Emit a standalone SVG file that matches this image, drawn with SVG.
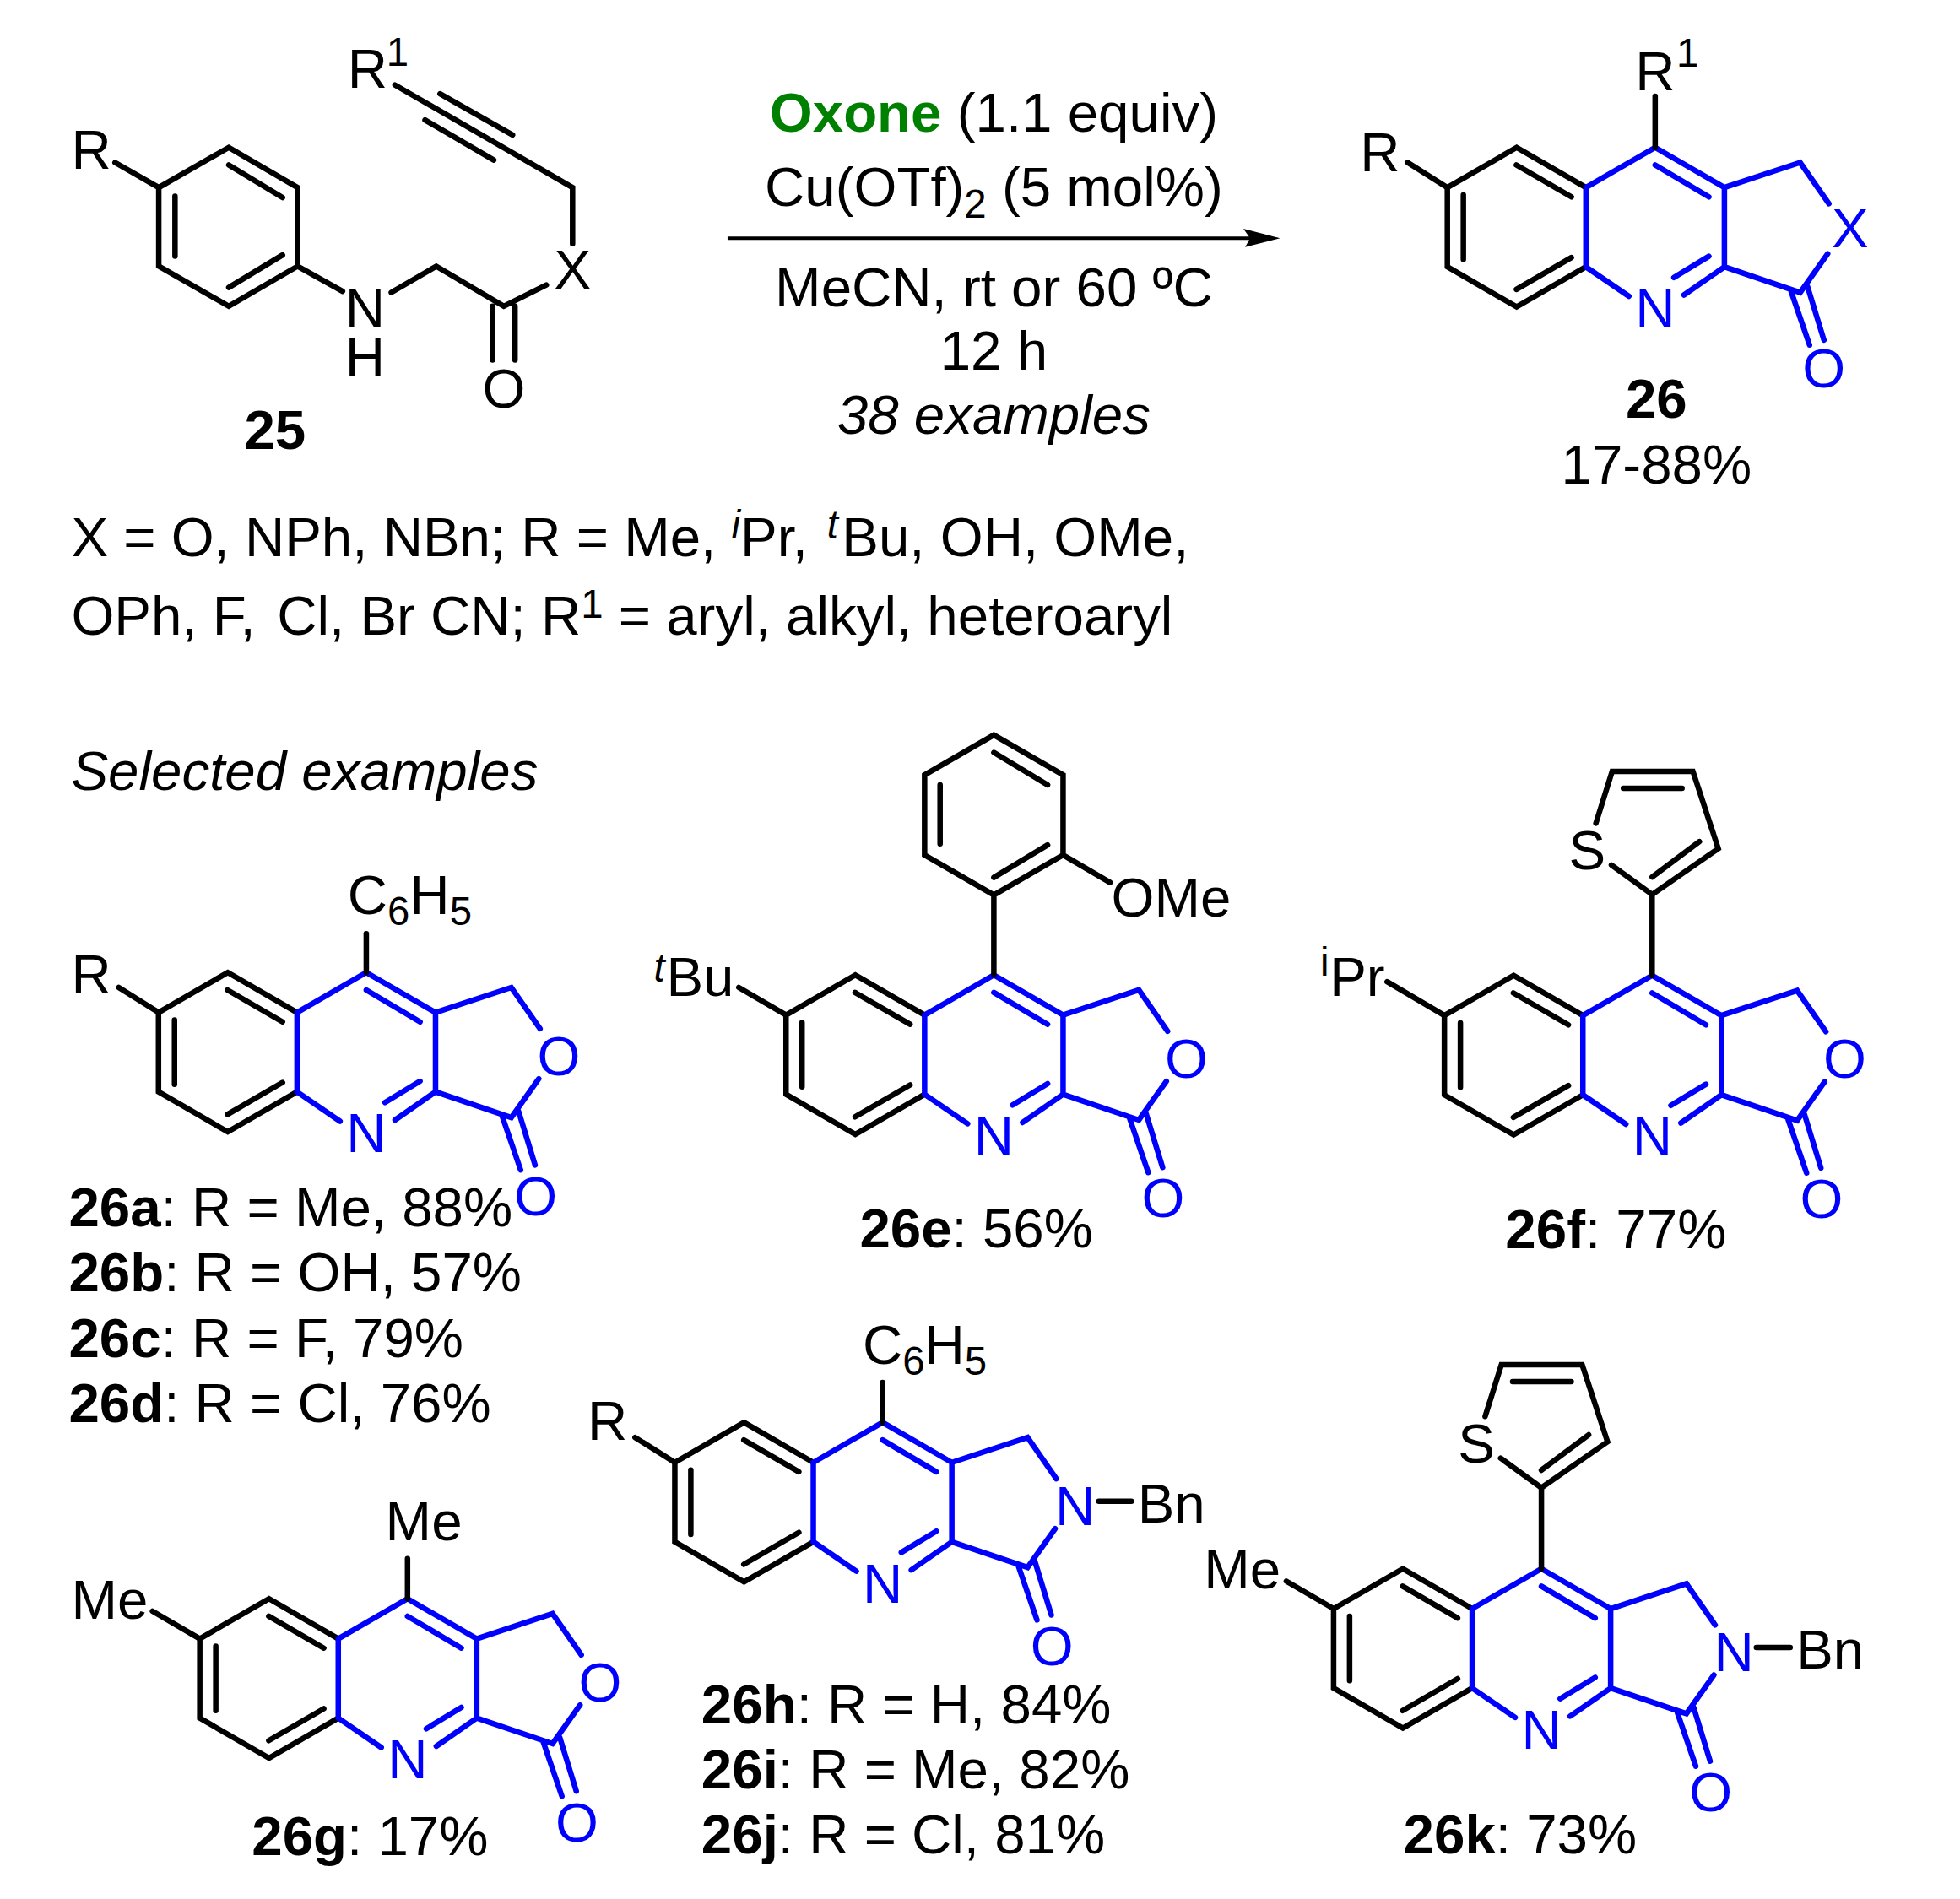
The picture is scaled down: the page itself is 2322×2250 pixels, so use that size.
<svg xmlns="http://www.w3.org/2000/svg" width="2322" height="2250" viewBox="0 0 2322 2250">
<style>
text{font-family:"Liberation Sans",Arial,sans-serif;font-size:44.2px;fill:#000}
.b{font-weight:bold}.i{font-style:italic}.c{text-anchor:middle}
.bl{fill:#0000ff}
.k{fill:none;stroke:#000;stroke-width:4.4;stroke-linecap:round;stroke-linejoin:miter}
.u{fill:none;stroke:#0000ff;stroke-width:4.4;stroke-linecap:round;stroke-linejoin:miter}
.s{font-size:32px}
</style>
<defs>
<g id="core">
<path class="k" d="M-55.4,32L-110.8,0L-166.2,32V95.5L-110.8,127.5L-55.4,95.5M-111,14L-67,39.5M-153.4,38V89.5M-111,113.5L-67,88"/>
<path class="u" d="M-21,119L-55.4,95.5V32L0,0L55.4,32V95.5L23,118M0,14L43,39.5M15,104L43,87M55.4,32L116,12L139,45M55.4,95.5L116,116L138,85M108.7,115L123.5,158M121.8,111L135,154"/>
</g>
<path id="rbond" class="k" d="M-166.2,32L-198,12"/>
<path id="rbond2" class="k" d="M-166.2,32L-204,10"/>
<path id="thio" class="k" d="M-32.6,-23.6L0,0L52.9,-36.7L32.6,-98.4H-32L-45,-57M0,-14L37.8,-42.3M-23,-84.9H23.9"/>
</defs>
<rect width="2322" height="2250" fill="#fff"/>
<g transform="scale(1.481)">
<g id="connectors">
<path id="arrow" class="k" style="stroke-width:2.7;stroke-linecap:butt" d="M582,190.6H1002"/>
<path d="M1024,190.6L994.6,183L1000,190.6L996,197.6Z" fill="#000"/>
</g>
<g id="node-25">
<path class="k" d="M92,130L127,150L183,118L238,150V213L183,245L127,213V150M183,132L226,158M140,157V205M183,230L226,204M238,213L274,233M313,234L349,213L403,245L437,228M394,245V288M412,245V288M458,195V150L316,68M352,75L410,108M340,96L395,128"/>
<text x="57" y="135">R</text><text x="278" y="70">R</text><text x="309" y="53" class="s">1</text>
<text x="292" y="262" class="c">N</text><text x="292" y="301" class="c">H</text>
<text x="458" y="231" class="c">X</text><text x="403" y="326" class="c">O</text>
<text x="220" y="359" class="b c">25</text>
</g>
<g id="conditions">
<text x="795" y="105" class="c"><tspan class="b" style="fill:#008000">Oxone</tspan> (1.1 equiv)</text>
<text x="795" y="165" class="c">Cu(OTf)<tspan class="s" dy="9">2</tspan><tspan dy="-9"> (5 mol%)</tspan></text>
<text x="795" y="245" class="c">MeCN, rt or 60 ºC</text>
<text x="795" y="296" class="c">12 h</text>
<text x="795" y="347" class="c i">38 examples</text>
</g>
<g id="node-26" transform="translate(1324,118)">
<use href="#core"/><use href="#rbond"/>
<path class="k" d="M0,0V-41"/>
<text x="-236" y="19">R</text><text x="-16" y="-46">R</text><text x="17" y="-64.5" class="s">1</text>
<text x="0" y="144" class="c bl">N</text><text x="156" y="80" class="c bl">X</text><text x="135" y="192" class="c bl">O</text>
<text x="1" y="216" class="c b">26</text><text x="1" y="269" class="c">17-88%</text>
</g>
<g id="scope-text">
<text x="57" y="445">X = O, NPh, NBn; R = Me, <tspan class="s i" dy="-14">i</tspan><tspan dy="14">Pr, </tspan><tspan class="s i" dy="-14" dx="3">t</tspan><tspan dy="14" dx="3">Bu, OH, OMe,</tspan></text>
<text x="57" y="508">OPh, F, <tspan dx="5">Cl, Br CN; R</tspan><tspan class="s" dy="-14">1</tspan><tspan dy="14"> = aryl, alkyl, heteroaryl</tspan></text>
<text x="57" y="632" class="i">Selected examples</text>
</g>
<g id="node-26a" transform="translate(293,778)">
<use href="#core"/><use href="#rbond"/><path class="k" d="M0,0V-31"/>
<text x="-15" y="-47">C<tspan class="s" dy="9">6</tspan><tspan dy="-9">H</tspan><tspan class="s" dy="9">5</tspan></text>
<text x="-236" y="17">R</text>
<text x="0" y="144" class="c bl">N</text><text x="154" y="82" class="c bl">O</text><text x="135.5" y="194" class="c bl">O</text>
</g>
<g id="labels-26a-d">
<text x="55" y="981"><tspan class="b">26a</tspan>: R = Me, 88%</text>
<text x="55" y="1033"><tspan class="b">26b</tspan>: R = OH, 57%</text>
<text x="55" y="1086"><tspan class="b">26c</tspan>: R = F, 79%</text>
<text x="55" y="1138"><tspan class="b">26d</tspan>: R = Cl, 76%</text>
</g>
<g id="node-26e" transform="translate(795,780)">
<use href="#core"/><use href="#rbond2"/>
<path class="k" d="M0,0V-64L55.4,-96V-160L0,-192L-55.4,-160V-96L0,-64M0,-78L43,-104M-43,-105V-152M0,-178L43,-152M55.4,-96L93,-74"/>
<text x="94" y="-47">OMe</text>
<text x="-272" y="5" class="s i">t</text><text x="-262" y="17">Bu</text>
<text x="0" y="144" class="c bl">N</text><text x="154" y="82" class="c bl">O</text><text x="135.5" y="194" class="c bl">O</text>
<text x="-14" y="218" class="c"><tspan class="b">26e</tspan>: 56%</text>
</g>
<g id="node-26f" transform="translate(1321.6,780.4)">
<use href="#core"/>
<path class="k" d="M-166.2,32L-212,5M0,0V-64.8"/><use href="#thio" y="-64.8"/>
<text x="-52" y="-85" class="c">S</text>
<text x="-265.6" y="0" class="s">i</text><text x="-258" y="16.4">Pr</text>
<text x="0" y="144" class="c bl">N</text><text x="154" y="82" class="c bl">O</text><text x="135.5" y="194" class="c bl">O</text>
<text x="-29" y="218" class="c"><tspan class="b">26f</tspan>: 77%</text>
</g>
<g id="node-26g" transform="translate(326,1279)">
<use href="#core"/><use href="#rbond2"/><path class="k" d="M0,0V-32"/>
<text x="13" y="-47" class="c">Me</text><text x="-269" y="16">Me</text>
<text x="0" y="144" class="c bl">N</text><text x="154" y="82" class="c bl">O</text><text x="135.5" y="194" class="c bl">O</text>
<text x="-30" y="205" class="c"><tspan class="b">26g</tspan>: 17%</text>
</g>
<g id="node-26h" transform="translate(706,1138)">
<use href="#core"/><use href="#rbond"/><path class="k" d="M0,0V-32M173,63H199"/>
<text x="-16" y="-47">C<tspan class="s" dy="9">6</tspan><tspan dy="-9">H</tspan><tspan class="s" dy="9">5</tspan></text>
<text x="-236" y="14">R</text>
<text x="0" y="144" class="c bl">N</text><text x="154" y="82" class="c bl">N</text><text x="204" y="80">Bn</text><text x="135.5" y="194" class="c bl">O</text>
</g>
<g id="labels-26h-j">
<text x="561" y="1379"><tspan class="b">26h</tspan>: R = H, 84%</text>
<text x="561" y="1431"><tspan class="b">26i</tspan>: R = Me, 82%</text>
<text x="561" y="1483"><tspan class="b">26j</tspan>: R = Cl, 81%</text>
</g>
<g id="node-26k" transform="translate(1233,1255)">
<use href="#core"/><use href="#rbond2"/>
<path class="k" d="M0,0V-64.8M172,63H199"/><use href="#thio" y="-64.8"/>
<text x="-52" y="-85" class="c">S</text>
<text x="-270" y="16">Me</text>
<text x="0" y="144" class="c bl">N</text><text x="154" y="82" class="c bl">N</text><text x="204" y="80">Bn</text><text x="135.5" y="194" class="c bl">O</text>
<text x="-17" y="228" class="c"><tspan class="b">26k</tspan>: 73%</text>
</g>
</g>
</svg>
